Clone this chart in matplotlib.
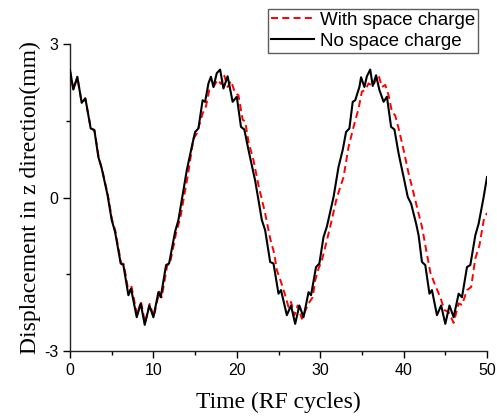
import matplotlib

matplotlib.use("Agg")
import matplotlib.pyplot as plt  # noqa: E402
from matplotlib.ticker import MultipleLocator  # noqa: E402

# No space charge (black, solid): time in RF cycles, displacement in mm
t_free = [
    0.0, 0.4, 0.88, 1.4, 1.84, 2.48, 2.92, 3.4, 3.8, 4.5, 5.0, 5.4, 6.08, 6.4,
    7.0, 7.32, 8.0, 8.48, 8.96, 9.52, 10.0, 10.6, 10.88, 11.52, 11.88, 12.6,
    13.0, 14.0, 14.6, 15.0, 15.4, 15.9, 16.2, 16.6, 16.9, 17.2, 17.6, 18.0,
    18.4, 18.9, 19.5, 20.0, 20.5, 20.9, 21.4, 22.2, 22.6, 23.0, 23.4, 24.0,
    24.4, 25.0, 25.3, 26.0, 26.5, 27.0, 27.5, 28.0, 28.6, 28.9, 29.5, 29.9,
    30.4, 30.8, 31.6, 32.2, 32.7, 33.1, 33.5, 33.9, 34.2, 34.7, 34.9, 35.3,
    35.6, 36.0, 36.3, 36.7, 37.1, 37.6, 38.0, 38.5, 38.9, 39.4, 40.0, 40.5,
    40.9, 41.5, 41.8, 42.2, 42.6, 43.1, 43.4, 44.0, 44.5, 45.0, 45.5, 46.0,
    46.6, 47.0, 47.6, 48.0, 48.6, 49.0, 49.6, 50.0,
]
z_free = [
    2.49, 2.11, 2.36, 1.85, 1.94, 1.35, 1.32, 0.79, 0.57, 0.05, -0.44, -0.67,
    -1.29, -1.32, -1.91, -1.78, -2.34, -2.07, -2.49, -2.11, -2.34, -1.85,
    -1.95, -1.32, -1.29, -0.67, -0.44, 0.53, 0.99, 1.28, 1.35, 1.90, 1.87,
    2.23, 2.36, 2.16, 2.43, 2.50, 2.13, 2.37, 1.87, 1.97, 1.38, 1.33, 0.93,
    0.33, -0.05, -0.44, -0.64, -1.26, -1.29, -1.88, -1.81, -2.30, -2.11,
    -2.47, -2.11, -2.34, -1.85, -1.91, -1.36, -1.29, -0.77, -0.57, 0.01,
    0.60, 0.93, 1.28, 1.35, 1.87, 1.90, 2.16, 2.35, 2.16, 2.37, 2.50, 2.18,
    2.39, 2.10, 1.87, 1.97, 1.38, 1.33, 0.86, 0.40, 0.01, -0.12, -0.51,
    -0.74, -1.26, -1.32, -1.88, -1.81, -2.30, -2.11, -2.47, -2.11, -2.34,
    -1.88, -1.95, -1.36, -1.32, -0.74, -0.51, 0.01, 0.40,
]

# With space charge (red, dashed)
t_sc = [
    0.0, 0.4, 0.88, 1.4, 1.84, 2.5, 2.95, 3.45, 3.85, 4.55, 5.05, 5.45, 6.12,
    6.45, 7.05, 7.35, 8.05, 8.5, 9.0, 9.55, 10.05, 10.7, 11.0, 11.65, 12.0,
    12.75, 13.2, 14.2, 14.8, 15.2, 15.9, 16.3, 16.7, 17.2, 17.7, 18.1, 18.5,
    18.9, 19.3, 19.8, 20.2, 20.7, 21.0, 21.4, 22.0, 22.6, 23.4, 24.0, 24.5,
    24.8, 25.3, 25.8, 26.2, 26.5, 26.9, 27.3, 27.8, 28.2, 28.6, 29.1, 29.4,
    29.8, 30.2, 30.6, 31.2, 32.0, 32.8, 33.4, 34.0, 34.6, 35.0, 35.4, 35.8,
    36.3, 37.0, 37.4, 37.8, 38.2, 38.6, 39.0, 39.4, 40.0, 40.6, 41.1, 41.7,
    42.2, 42.6, 43.2, 43.7, 44.4, 44.9, 45.4, 46.0, 46.6, 47.0, 47.6, 48.1,
    48.6, 49.1, 49.6, 50.0,
]
z_sc = [
    2.47, 2.12, 2.34, 1.86, 1.92, 1.36, 1.30, 0.78, 0.55, 0.04, -0.44, -0.66,
    -1.28, -1.30, -1.88, -1.72, -2.30, -2.03, -2.45, -2.08, -2.33, -1.84,
    -1.95, -1.33, -1.28, -0.67, -0.42, 0.50, 1.15, 1.25, 1.64, 1.78, 2.10,
    2.16, 2.30, 2.22, 2.38, 2.16, 2.28, 2.04, 2.00, 1.52, 1.49, 1.09, 0.73,
    0.24, -0.31, -0.80, -1.10, -1.42, -1.65, -1.91, -2.14, -2.04, -2.30,
    -2.11, -2.37, -2.22, -2.07, -1.95, -1.62, -1.39, -1.23, -0.97, -0.57,
    0.00, 0.40, 0.99, 1.38, 1.74, 2.07, 2.10, 2.23, 2.18, 2.39, 2.16, 2.20,
    2.00, 1.68, 1.60, 1.35, 0.93, 0.47, 0.15, -0.25, -0.57, -0.93, -1.46,
    -1.68, -1.95, -2.20, -2.24, -2.45, -2.07, -2.10, -1.81, -1.75, -1.19,
    -0.93, -0.45, -0.30,
]

SERIF = ["Liberation Serif", "DejaVu Serif"]
SANS = ["Liberation Sans", "DejaVu Sans"]

plt.rcParams.update(
    {"font.family": SANS, "font.size": 11, "axes.unicode_minus": False}
)

fig = plt.figure(figsize=(4.97, 4.16), dpi=100)
ax = fig.add_axes([70 / 497, 1 - 351 / 416, 417 / 497, 307 / 416])

ax.plot(t_sc, z_sc, color="#ff0000", linewidth=1.4, dashes=(3.6, 2.2),
        label="With space charge", zorder=2)
ax.plot(t_free, z_free, color="black", linewidth=1.5,
        label="No space charge", zorder=3)

ax.set_xlim(0, 50)
ax.set_ylim(-3, 3)
ax.xaxis.set_major_locator(MultipleLocator(10))
ax.xaxis.set_minor_locator(MultipleLocator(5))
ax.yaxis.set_major_locator(MultipleLocator(3))
ax.yaxis.set_minor_locator(MultipleLocator(1.5))
ax.tick_params(which="major", direction="out", length=5, width=1,
               labelsize=11.5, colors="black")
ax.tick_params(which="minor", direction="out", length=3, width=1)
for side in ("top", "right"):
    ax.spines[side].set_visible(False)
for side in ("left", "bottom"):
    ax.spines[side].set_linewidth(1)
    ax.spines[side].set_color("#222222")

ax.set_xlabel("Time (RF cycles)", family=SERIF, fontsize=17, labelpad=10)
ax.set_ylabel("Displacement in z direction(mm)", family=SERIF, fontsize=17,
              labelpad=2)

leg = ax.legend(loc="upper right", bbox_to_anchor=(478 / 497, 1 - 9 / 416),
                bbox_transform=fig.transFigure, fontsize=13.5, frameon=True,
                fancybox=False, handlelength=2.3, handletextpad=0.3,
                borderpad=0.15, labelspacing=0.2, borderaxespad=0)
leg.get_frame().set_edgecolor("#333333")
leg.get_frame().set_linewidth(1)

fig.savefig("out.png", dpi=100)
plt.close(fig)
